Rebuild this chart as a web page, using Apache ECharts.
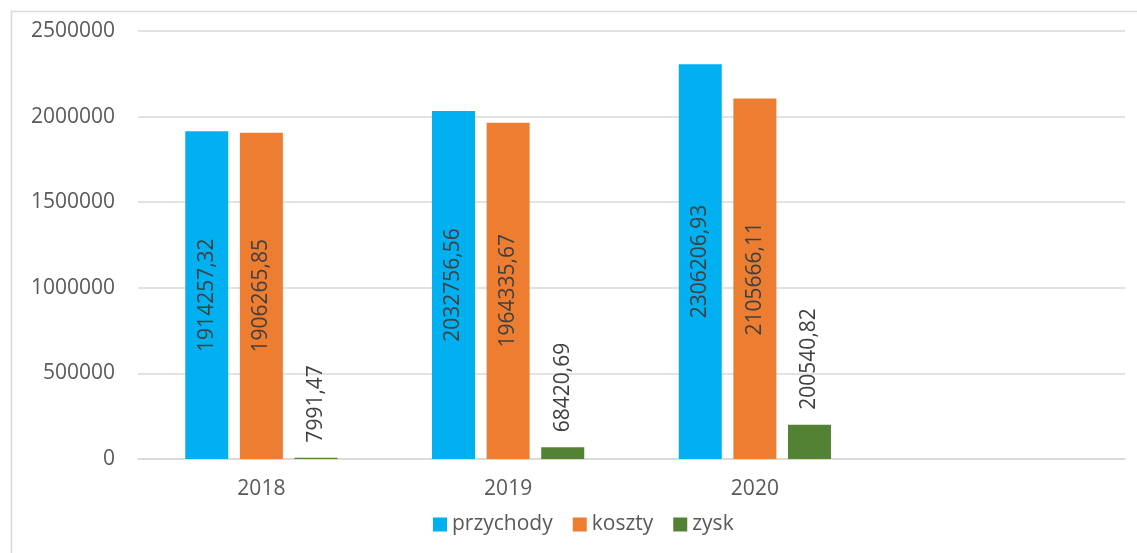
<!DOCTYPE html>
<html>
<head>
<meta charset="utf-8">
<script src="https://cdn.jsdelivr.net/npm/echarts@6/dist/echarts.min.js"></script>
<style>
html,body{margin:0;padding:0;background:#fff;}
#chart{width:1137px;height:553px;}
</style>
</head>
<body>
<div id="chart"></div>
<script>
const categories = ['2018', '2019', '2020', ''];
const przychody = [1914257.32, 2032756.56, 2306206.93, null];
const koszty = [1906265.85, 1964335.67, 2105666.11, null];
const zysk = [7991.47, 68420.69, 200540.82, null];
const yTicks = [0, 500000, 1000000, 1500000, 2000000, 2500000];

const FONT = '"Open Sans", sans-serif';
const TXT = '#595959';
const fmt = v => v.toFixed(2).replace('.', ',');

const chart = echarts.init(document.getElementById('chart'), null, {renderer: 'canvas'});

function mkSeries(name, data, color, pos) {
  const label = pos === 'inside' ? {
    show: true, position: 'inside', rotate: 90,
    align: 'center', verticalAlign: 'middle',
    color: '#404040', fontFamily: FONT, fontSize: 21,
    formatter: p => fmt(p.value)
  } : {
    show: true, position: 'top', rotate: 90, distance: 15,
    align: 'left', verticalAlign: 'middle',
    color: '#404040', fontFamily: FONT, fontSize: 21,
    formatter: p => fmt(p.value)
  };
  return {
    name, type: 'bar', data,
    barWidth: 43, barGap: '27%',
    itemStyle: {color},
    label,
    emphasis: {disabled: true}
  };
}

chart.setOption({
  animation: false,
  backgroundColor: '#fff',
  graphic: [{
    type: 'rect', left: 9, top: 9,
    shape: {width: 1160, height: 580},
    style: {fill: 'none', stroke: '#d9d9d9', lineWidth: 1.5},
    silent: true, z: -10
  }],
  grid: {left: 138, right: 12, top: 31, bottom: 94, containLabel: false},
  legend: {
    left: 428, top: 509,
    itemWidth: 14, itemHeight: 14, itemGap: 20,
    icon: 'rect',
    textStyle: {color: TXT, fontFamily: FONT, fontSize: 21},
    data: ['przychody', 'koszty', 'zysk']
  },
  xAxis: {
    type: 'category', data: categories,
    axisLine: {lineStyle: {color: '#d9d9d9', width: 1.5}},
    axisTick: {show: false},
    axisLabel: {color: TXT, fontFamily: FONT, fontSize: 21, margin: 20}
  },
  yAxis: {
    type: 'value', min: 0, max: 2500000, interval: 500000,
    axisLine: {show: false}, axisTick: {show: false},
    splitLine: {lineStyle: {color: '#d9d9d9', width: 1.5}},
    axisLabel: {color: TXT, fontFamily: FONT, fontSize: 21, margin: 23,
      formatter: v => yTicks.includes(v) ? String(v) : ''}
  },
  series: [
    mkSeries('przychody', przychody, '#00b0f0', 'inside'),
    mkSeries('koszty', koszty, '#ed7d31', 'inside'),
    mkSeries('zysk', zysk, '#548235', 'top')
  ]
});
</script>
</body>
</html>
